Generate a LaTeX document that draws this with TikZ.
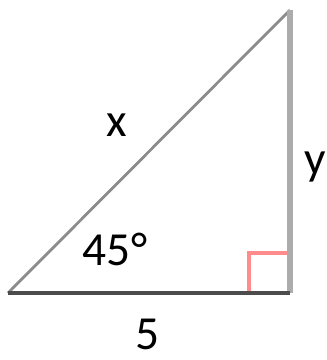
\documentclass[tikz,border=0pt]{standalone}
\usepackage{fontspec}
\setmainfont{Carlito}
\usepackage{tikz}
\usetikzlibrary{calc}

\begin{document}
\begin{tikzpicture}[x=0.02cm, y=0.02cm,
        side/.style={line cap=butt},
        hyp/.style={side, draw=gray!90, line width=1.6pt},
        leg/.style={side, draw=gray!65, line width=3.6pt},
        base/.style={side, draw=black!70, line width=2.2pt},
        rightangle/.style={draw=red!45, line width=2pt},
        label/.style={font=\fontsize{27}{28}\selectfont, inner sep=0pt}
    ]
    \useasboundingbox (0,0) rectangle (327,360);

    % Corners
    \coordinate (A) at (8,67);
    \coordinate (B) at (290,67);
    \coordinate (C) at (290,350);

    % Right angle mark
    \draw[rightangle] ($(B)+(-41,0)$) coordinate (R1) -- ($(B)+(-41,40)$) coordinate (R2) -- ($(B)+(0,40)$) coordinate (R3);

    % Sides
    \draw[hyp] (A) -- (C);
    \draw[leg] (B) -- (C);
    \draw[base] (A) -- (B);

    % Labels
    \node[label] (lx) at (117,235) {x};
    \node[label] (ly) at (315,193) {y};
    \node[label] (angle) at (115,111) {45°};
    \node[label] (base5) at (148,26) {5};
\end{tikzpicture}
\end{document}
